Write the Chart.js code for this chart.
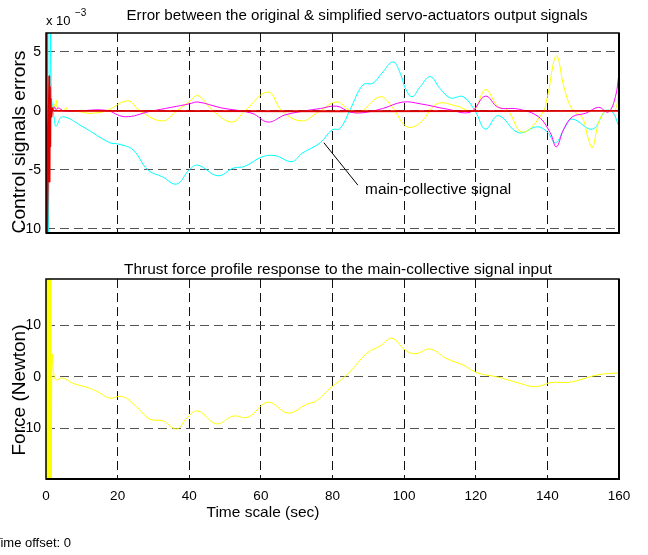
<!DOCTYPE html>
<html lang="en">
<head>
    <meta charset="UTF-8">
    <title>Servo-actuator error signals</title>
    <script src="https://cdn.jsdelivr.net/npm/chart.js"></script>
    <style>
        body { margin: 0; background: #fff; }
        #wrap { position: relative; width: 648px; height: 555px; overflow: hidden; }
        canvas { position: absolute; left: 0; }
        #errChart { top: 0; }
        #forceChart { top: 250px; }
    </style>
</head>
<body>
<div id="wrap">
    <canvas id="errChart" width="648" height="250"></canvas>
    <canvas id="forceChart" width="648" height="305"></canvas>
</div>
<script>
    // ---- data (time in sec, errors in 1e-3 units, force in Newton) ----
    const xTicks = [0, 20, 40, 60, 80, 100, 120, 140, 160];
    const errTicks = [-10, -5, 0, 5];
    const forceTicks = [-10, 0, 10];

    const redT = [0, 0.1, 0.2, 0.3, 0.9, 1.0, 1.1, 1.2, 1.3, 1.5, 1.8, 2.2, 160];
    const redV = [6.7, -10.4, 6.7, -10.4, 2.9, -6.0, 2.0, -3.0, 1.0, -0.5, 0.2, 0, 0];

    const magT = [0, 1.6, 2.2, 2.8, 3.4, 5, 9, 16.8, 22, 29, 35, 40.1, 42.4, 49, 57.5, 62, 66.7, 72.3, 76.6, 81.2,
        84.9, 88.6, 94, 99.7, 104.5, 112, 118.5, 122.7, 126.3, 131.9, 137.5, 140.8, 142.5, 144.5, 147, 150.7,
        154.3, 157, 159, 160];
    const magV = [0, 0, 0.35, 0.1, 0.25, 0, 0, 0.05, -0.5, -0.05, 0.3, 0.6, 0.75, 0.25, -0.2, -0.95, -0.35, 0, 0.2, 0.4,
        -0.1, -0.15, 0.2, 0.75, 0.6, 0.15, -0.1, 1.25, 0.3, 0.15, -0.5, -1.85, -3.05, -1.6, -0.5, -0.2,
        0.3, -0.1, 1.2, 3.2];

    const yelT = [0, 1.6, 2.2, 2.6, 2.9, 3.3, 4, 5, 5.6, 6.2, 9, 12.2, 16.8, 22.9, 26.2, 32.6, 36.5, 40.1, 42.4,
        46.7, 51.9, 55.5, 62, 65.9, 71.5, 76, 81.2, 84.9, 87.7, 93.3, 96.6, 100.8, 104.5, 109.2, 114.8, 119.3,
        122.7, 126.3, 128.8, 133, 138.6, 140, 142.5, 144.8, 147, 149.8, 151.5, 152.6, 154.3, 156.2, 159, 160];
    const yelV = [0, 0, 0.6, 0.2, 0.9, 0, 0.1, 0, 0.3, 0, -0.05, -0.2, 0, 0.85, 0, -0.85, 0, 0.8, 1.3,
        0, -0.95, 0, 1.6, 0, -0.85, -0.1, 0.75, 0, -0.1, 1.2, 0.35, -1.35, -1.0, 0.6, 0.4, 0,
        1.8, 0.3, 0.1, -1.8, -0.2, 1.2, 4.65, 1.8, 0.1, -0.6, -2.45, -3.1, -1.0, 0, 0.1, 2.6];

    const cyanT = [0.4, 0.5, 0.6, 1.3, 1.5, 1.9, 2.3, 2.8, 4.6, 10.3, 17.8, 20, 24.3, 28.4, 32.6, 36.5, 40, 42.4,
        48, 52.3, 55.5, 60.3, 64, 68.7, 71.5, 76.6, 79.9, 82.1, 84.9, 88.5, 91.3, 93.8, 96.9, 98.9, 100.3, 102.2,
        104.5, 107.3, 110, 112.9, 116.5, 119.9, 122.7, 126.3, 131.9, 137.2, 140, 142.3, 145, 147, 152.6, 156.2,
        158.2, 160];
    const cyanV = [-10.4, 6.7, -10.4, 6.7, 1.5, 0.1, -0.6, -1.3, -0.5, -1.35, -2.7, -2.8, -3.3, -5.0, -5.6, -6.2, -5.0, -4.6,
        -5.5, -4.85, -4.7, -3.9, -3.8, -4.3, -3.6, -2.7, -1.6, -1.5, 0.1, 2.2, 2.35, 3.2, 4.15, 3.2, 1.95, 1.2,
        2.05, 2.9, 1.9, 1.1, 1.2, -0.05, -1.55, -0.4, -1.85, -1.35, -1.8, -2.7, -1.35, -0.7, -1.55, 0,
        -0.1, -1.35];

    const forceT = [0, 0.1, 0.2, 0.3, 0.4, 0.5, 0.6, 0.7, 0.8, 0.9, 1.0, 1.1, 1.2, 1.3, 1.4, 1.5,
        1.7, 2.2, 2.8, 4.6, 7.4, 12.2, 15, 17.8, 21.4, 25.3, 29, 32.6, 36.5, 39.3, 42.4, 47.6, 52.2, 56.4,
        62, 67.6, 72.8, 75.6, 79.3, 84, 89.6, 93.3, 96.6, 100.3, 103.1, 107.3, 112, 116.5, 120.4, 126,
        131.6, 136.7, 140.9, 146.5, 154, 160];
    const forceV = [19.5, -20.5, 19.5, -20.5, 19.5, -20.5, 19.5, -20.5, 19.5, -20.5, 19.5, -20.5, 19.5, -20.5, 19.5, -20.5,
        4.3, 0.5, -0.6, -0.2, -1.2, -2.2, -3.1, -4.1, -3.8, -5.8, -8.2, -8.5, -10.1, -8.0, -6.6, -9.1, -7.6, -7.8,
        -4.9, -7.0, -5.3, -4.6, -2.2, 0.4, 4.6, 6.0, 7.5, 5.2, 4.5, 5.4, 3.5, 2.3, 0.8, 0,
        -1.1, -1.9, -1.1, -1.0, 0.4, 0.8];

    // annotation of the cyan curve (data units)
    const annotLine = [[77.6, -2.7], [87.1, -6.3]];
    const annotText = [89.1, -6.75];

    const FONT = '"Liberation Sans", Arial, Helvetica, sans-serif';

    function pts(t, v) { return t.map((x, i) => ({ x: x, y: v[i] })); }

    function line(t, v, color, width) {
        return {
            data: pts(t, v),
            borderColor: color,
            borderWidth: width || 1,
            pointRadius: 0,
            fill: false,
            tension: 0.4
        };
    }

    function drawText(ctx, s) {
        ctx.save();
        ctx.font = s.size + 'px ' + FONT;
        ctx.fillStyle = '#000';
        ctx.textBaseline = 'middle';
        ctx.textAlign = s.align || 'center';
        const k = s.width ? s.width / ctx.measureText(s.text).width : 1;
        ctx.translate(s.x, s.y);
        if (s.rotate) ctx.rotate(s.rotate);
        ctx.scale(k, 1);
        ctx.fillText(s.text, 0, 0);
        ctx.restore();
    }

    // box around the plot + free texts
    const overlay = {
        id: 'overlay',
        afterDraw(chart, args, opts) {
            const { ctx, chartArea: a } = chart;
            ctx.save();
            ctx.strokeStyle = '#000';
            ctx.lineWidth = 1.5;
            ctx.strokeRect(a.left, a.top, a.right - a.left, a.bottom - a.top);
            ctx.lineWidth = 2;
            ctx.beginPath();
            ctx.moveTo(a.right, a.top); ctx.lineTo(a.right, a.bottom); ctx.lineTo(a.left, a.bottom);
            ctx.stroke();
            ctx.restore();
            (opts.texts || []).forEach(s => drawText(ctx, s));
            if (opts.annot) {
                const xs = chart.scales.x, ys = chart.scales.y;
                ctx.save();
                ctx.strokeStyle = '#000';
                ctx.lineWidth = 1;
                ctx.beginPath();
                ctx.moveTo(xs.getPixelForValue(annotLine[0][0]), ys.getPixelForValue(annotLine[0][1]));
                ctx.lineTo(xs.getPixelForValue(annotLine[1][0]), ys.getPixelForValue(annotLine[1][1]));
                ctx.stroke();
                ctx.restore();
                drawText(ctx, { text: 'main-collective signal', align: 'left', size: 14, width: 146,
                    x: xs.getPixelForValue(annotText[0]), y: ys.getPixelForValue(annotText[1]) });
            }
        }
    };

    function makeChart(id, datasets, yMin, yMax, yTicks, showX, pad, xHeight, overlayOpts) {
        return new Chart(document.getElementById(id), {
            type: 'line',
            data: { datasets: datasets },
            options: {
                responsive: false,
                animation: false,
                devicePixelRatio: 1,
                layout: { padding: pad },
                plugins: { legend: { display: false }, tooltip: { enabled: false }, overlay: overlayOpts },
                scales: {
                    x: {
                        type: 'linear', min: 0, max: 160,
                        afterBuildTicks: s => { s.ticks = xTicks.map(v => ({ value: v })); },
                        afterFit: s => { s.height = xHeight; },
                        grid: { color: '#111', lineWidth: 1, drawTicks: false },
                        border: { display: false, dash: [9, 5] },
                        ticks: { display: showX, padding: 9, color: '#000', maxRotation: 0,
                            font: { family: FONT, size: 13.5 } }
                    },
                    y: {
                        type: 'linear', min: yMin, max: yMax,
                        afterBuildTicks: s => { s.ticks = yTicks.map(v => ({ value: v })); },
                        afterFit: s => { s.width = 46; },
                        grid: { color: '#555', lineWidth: 1, drawTicks: false },
                        border: { display: false, dash: [9, 5] },
                        ticks: { padding: 5, color: '#000', font: { family: FONT, size: 14 } }
                    }
                }
            },
            plugins: [overlay]
        });
    }

    makeChart('errChart', [
        line(redT, redV, '#dd0000', 1.8),
        line(magT, magV, '#ff00ff'),
        line(yelT, yelV, '#ffff00'),
        line(cyanT, cyanV, '#00ffff')
    ], -10.35, 6.6, errTicks, false, { left: 0, top: 33, right: 29, bottom: 0 }, 17, {
        annot: true,
        texts: [
            { text: 'Error between the original & simplified servo-actuators output signals', x: 357, y: 16, size: 15, width: 461 },
            { text: 'Control signals errors', x: 20, y: 142, size: 18, width: 183, rotate: -Math.PI / 2 },
            { text: 'x 10', x: 46, y: 21, size: 13, align: 'left' },
            { text: '\u22123', x: 75, y: 13, size: 10, align: 'left' }
        ]
    });

    makeChart('forceChart', [
        line(forceT, forceV, '#ffff00')
    ], -19.8, 19, forceTicks, true, { left: 0, top: 29, right: 29, bottom: 0 }, 76, {
        texts: [
            { text: 'Thrust force profile response to the main-collective signal input', x: 338, y: 20, size: 15, width: 428 },
            { text: 'Force (Newton)', x: 20, y: 140, size: 18, width: 131, rotate: -Math.PI / 2 },
            { text: 'Time scale (sec)', x: 263, y: 263, size: 15, width: 113 },
            { text: 'Time offset: 0', x: -7, y: 293, size: 13, align: 'left' }
        ]
    });
</script>
</body>
</html>
